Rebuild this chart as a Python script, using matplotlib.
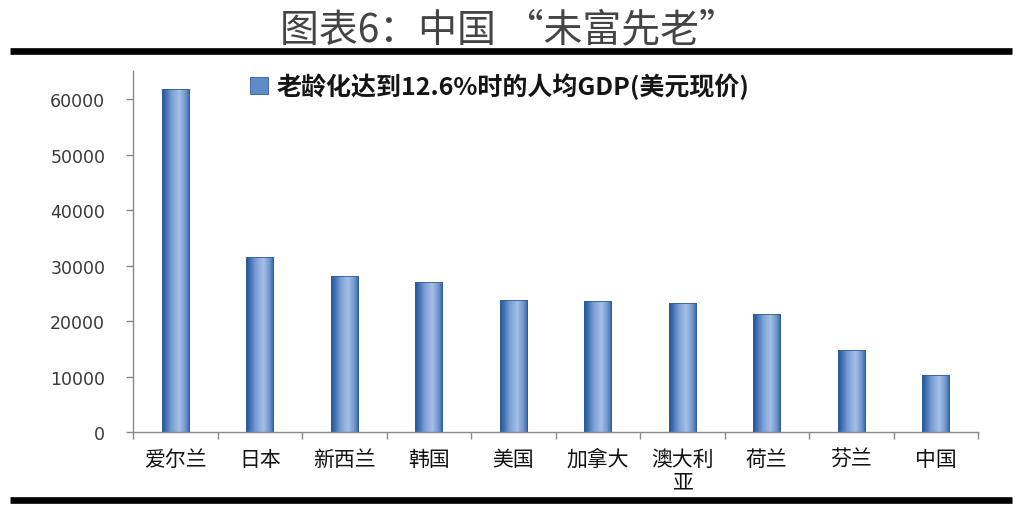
import numpy as np
import matplotlib
matplotlib.use("Agg")
import matplotlib.pyplot as plt
from matplotlib.lines import Line2D
from matplotlib.patches import Rectangle

# ---- data ----
categories = ["爱尔兰", "日本", "新西兰", "韩国", "美国", "加拿大", "澳大利\n亚", "荷兰", "芬兰", "中国"]
gdp_per_capita = [61900, 31500, 28200, 27100, 23750, 23700, 23350, 21300, 14850, 10350]
series_label = "老龄化达到12.6%时的人均GDP(美元现价)"
title_text = "图表6：中国 “未富先老”"
yticks = [0, 10000, 20000, 30000, 40000, 50000, 60000]

CJK = ["Noto Sans CJK SC", "DejaVu Sans"]

fig = plt.figure(figsize=(10.17, 5.10), dpi=100)
fig.patch.set_facecolor("white")

ax = fig.add_axes([133 / 1017, 76.7 / 510, 845 / 1017, 361.6 / 510])

# gradient colours (left dark -> light -> right darker)
stops = np.array([0.0, 0.12, 0.35, 0.62, 0.85, 1.0])
cols = np.array([
    [0x27, 0x55, 0x8f],
    [0x3b, 0x6c, 0xb0],
    [0x7a, 0x9f, 0xd4],
    [0xa6, 0xc0, 0xe6],
    [0x6e, 0x95, 0xcd],
    [0x35, 0x63, 0xa3],
]) / 255.0
xs = np.linspace(0, 1, 64)
grad = np.stack([np.interp(xs, stops, cols[:, k]) for k in range(3)], axis=-1)[None, :, :]

x = np.arange(len(categories))
bw = 0.32
bars = ax.bar(x, gdp_per_capita, width=bw, facecolor="none",
              edgecolor="#2f5d95", linewidth=0.6, zorder=3)
for b in bars:
    x0, y0 = b.get_x(), b.get_y()
    w, h = b.get_width(), b.get_height()
    im = ax.imshow(grad, extent=(x0, x0 + w, y0, y0 + h), aspect="auto",
                   interpolation="bilinear", zorder=2)
    im.set_clip_path(b)

ax.set_xlim(-0.5, len(categories) - 0.5)
ax.set_ylim(0, 65150)

for s in ["top", "right"]:
    ax.spines[s].set_visible(False)
for s in ["left", "bottom"]:
    ax.spines[s].set_color("#8a8a8a")
    ax.spines[s].set_linewidth(1.0)

ax.set_yticks(yticks)
ax.set_yticklabels([str(v) for v in yticks], fontsize=12.5, color="#3a3a3a",
                   family="DejaVu Sans")
ax.tick_params(axis="y", direction="out", length=5, width=1, color="#8a8a8a", pad=15)

ax.set_xticks(x)
ax.set_xticklabels(categories, fontsize=15, color="#111111", family=CJK,
                   linespacing=1.05, va="top")
ax.set_xticks(np.arange(-0.5, len(categories), 1.0), minor=True)
ax.tick_params(axis="x", which="major", length=0, pad=11)
ax.tick_params(axis="x", which="minor", direction="out", length=5, width=1, color="#8a8a8a")

# legend
handle = Rectangle((0, 0), 1, 1, facecolor="#5f8cc8", edgecolor="#2f5d95", linewidth=0.6)
leg = ax.legend([handle], [series_label], loc="center left",
                bbox_to_anchor=(0.112, 0.958), frameon=False,
                handlelength=0.7, handleheight=0.7, handletextpad=0.35,
                prop={"family": CJK, "weight": "bold", "size": 18})
for t in leg.get_texts():
    t.set_color("#151515")

# title and rules
fig.text(0.5, 1 - 30 / 510, title_text, ha="center", va="center",
         fontsize=28, color="#444444", family=CJK, weight="light")
fig.add_artist(Line2D([10 / 1017, 1012 / 1017], [1 - 52 / 510, 1 - 52 / 510],
                      transform=fig.transFigure, color="#000000", linewidth=4.8,
                      solid_capstyle="butt"))
fig.add_artist(Line2D([10 / 1017, 1012 / 1017], [1 - 501 / 510, 1 - 501 / 510],
                      transform=fig.transFigure, color="#000000", linewidth=4.8,
                      solid_capstyle="butt"))

fig.savefig("out.png", dpi=100, facecolor="white")
